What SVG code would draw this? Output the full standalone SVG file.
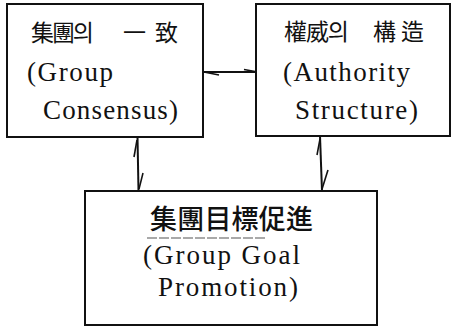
<svg xmlns="http://www.w3.org/2000/svg" width="452" height="327" viewBox="0 0 452 327">
<style>
.box{fill:#fff;stroke:#111;stroke-width:2}
.ln{fill:none;stroke:#111;stroke-width:2}
.barb{fill:none;stroke:#111;stroke-width:1.6}
</style>
<rect width="452" height="327" fill="#fff"/>
<g id="consensus">
<rect class="box" x="7" y="4" width="196" height="133"/>
<g font-family="Noto Sans CJK KR, Noto Sans CJK SC, sans-serif" font-size="23" fill="#111">
<text x="31" y="41" textLength="63" lengthAdjust="spacing">集團의</text>
<text x="123" y="41" textLength="55" lengthAdjust="spacing">一致</text>
</g>
<g font-family="Liberation Serif, serif" font-size="27" fill="#111">
<text x="27" y="81" textLength="86" lengthAdjust="spacing">(Group</text>
<text x="43" y="119" textLength="135" lengthAdjust="spacing">Consensus)</text>
</g>
</g>
<g id="authority">
<rect class="box" x="256" y="4" width="194" height="132"/>
<g font-family="Noto Sans CJK KR, Noto Sans CJK SC, sans-serif" font-size="23" fill="#111">
<text x="284" y="40" textLength="65" lengthAdjust="spacing">權威의</text>
<text x="373" y="40" textLength="51" lengthAdjust="spacing">構造</text>
</g>
<g font-family="Liberation Serif, serif" font-size="27" fill="#111">
<text x="283" y="81" textLength="127" lengthAdjust="spacing">(Authority</text>
<text x="295" y="119" textLength="123" lengthAdjust="spacing">Structure)</text>
</g>
</g>
<g id="goal">
<rect class="box" x="85" y="191" width="292" height="134"/>
<text x="150" y="229" font-family="Noto Sans CJK KR, Noto Sans CJK SC, sans-serif" font-size="27" font-weight="500" fill="#111" textLength="163" lengthAdjust="spacing">集團目標促進</text>
<line x1="147" y1="238" x2="267" y2="238" stroke="#555" stroke-width="1.2" stroke-dasharray="10 2"/>
<g font-family="Liberation Serif, serif" font-size="27" fill="#111">
<text x="143" y="264" textLength="157" lengthAdjust="spacing">(Group Goal</text>
<text x="158" y="296" textLength="140" lengthAdjust="spacing">Promotion)</text>
</g>
</g>
<g id="connectors">
<line class="ln" x1="203" y1="72" x2="256" y2="72"/>
<path class="barb" d="M204,72 L219,75"/>
<path class="barb" d="M244,69.5 L255,71.5"/>
<line class="ln" x1="137.5" y1="137" x2="138.5" y2="191"/>
<path class="barb" d="M137,140 L134,157"/>
<path class="barb" d="M139,189 L143,173"/>
<line class="ln" x1="320" y1="136" x2="322" y2="191"/>
<path class="barb" d="M320,139 L317,155"/>
<path class="barb" d="M322,189 L328,170"/>
</g>
</svg>
